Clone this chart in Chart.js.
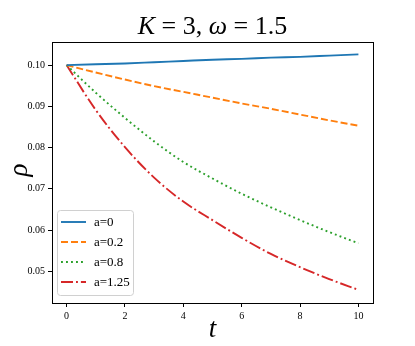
<!DOCTYPE html>
<html>
<head>
<meta charset="utf-8">
<script src="https://cdn.jsdelivr.net/npm/chart.js@4.4.0/dist/chart.umd.min.js"></script>
<style>
  html, body { margin: 0; padding: 0; background: #fff; }
  #wrap { width: 415px; height: 346px; }
</style>
</head>
<body>
<div id="wrap"><canvas id="chRho" width="415" height="346"></canvas></div>
<script>
var tVals = [0, 1, 2, 3, 4, 5, 6, 7, 8, 9, 10];
var rhoA0   = [0.1000, 0.1002, 0.1004, 0.1007, 0.1010, 0.1013, 0.1015, 0.1018, 0.1020, 0.1023, 0.1026];
var rhoA02  = [0.1000, 0.0982, 0.0965, 0.0949, 0.0935, 0.0921, 0.0907, 0.0894, 0.0880, 0.0866, 0.0853];
var rhoA08  = [0.1000, 0.0933, 0.0872, 0.0815, 0.0765, 0.0725, 0.0688, 0.0655, 0.0624, 0.0595, 0.0568];
var rhoA125 = [0.1000, 0.0891, 0.0801, 0.0727, 0.0669, 0.0624, 0.0581, 0.0542, 0.0510, 0.0481, 0.0455];
var seriesLabels = ['a=0', 'a=0.2', 'a=0.8', 'a=1.25'];
var xTicks = [0, 2, 4, 6, 8, 10];
var yTicks = [0.05, 0.06, 0.07, 0.08, 0.09, 0.10];

var colors = ['#1f77b4', '#ff7f0e', '#2ca02c', '#d62728'];
var dashes = [[], [7, 3], [1.9, 3.1], [12, 3, 1.9, 3]];
var serif = '"Liberation Serif", "DejaVu Serif", serif';

function pts(ys) {
  return tVals.map(function (t, i) { return {x: t, y: ys[i]}; });
}

var allSeries = [rhoA0, rhoA02, rhoA08, rhoA125];
var datasets = allSeries.map(function (ys, i) {
  return {
    label: seriesLabels[i],
    data: pts(ys),
    borderColor: colors[i],
    borderWidth: 1.9,
    borderDash: dashes[i],
    pointRadius: 0,
    fill: false,
    cubicInterpolationMode: 'monotone'
  };
});

// frame, title, axis labels and a matplotlib-like legend
var decor = {
  id: 'decor',
  afterDraw: function (chart) {
    var ctx = chart.ctx, a = chart.chartArea;
    ctx.save();
    ctx.strokeStyle = '#000';
    ctx.lineWidth = 1;
    ctx.strokeRect(a.left + 0.5, a.top + 0.5, a.right - a.left, a.bottom - a.top);

    // title with italic K and omega
    var parts = [['K', 'italic'], [' = 3, ', 'normal'], ['\u03c9', 'italic'], [' = 1.5', 'normal']];
    var size = 26, total = 0;
    parts.forEach(function (p) {
      ctx.font = p[1] + ' ' + size + 'px ' + serif;
      total += ctx.measureText(p[0]).width;
    });
    var x = (a.left + a.right) / 2 - total / 2;
    ctx.fillStyle = '#000';
    ctx.textBaseline = 'alphabetic';
    ctx.textAlign = 'left';
    parts.forEach(function (p) {
      ctx.font = p[1] + ' ' + size + 'px ' + serif;
      ctx.fillText(p[0], x, 34);
      x += ctx.measureText(p[0]).width;
    });

    // axis labels
    ctx.font = 'italic 27px ' + serif;
    ctx.textAlign = 'center';
    ctx.fillText('t', (a.left + a.right) / 2, 337);
    ctx.save();
    ctx.translate(20, 170);
    ctx.rotate(-Math.PI / 2);
    ctx.textBaseline = 'middle';
    ctx.fillText('\u03c1', 0, 0);
    ctx.restore();

    // legend
    var lx = 57.5, ly = 210.5, lw = 76, lh = 85, r = 3;
    ctx.beginPath();
    ctx.moveTo(lx + r, ly);
    ctx.arcTo(lx + lw, ly, lx + lw, ly + lh, r);
    ctx.arcTo(lx + lw, ly + lh, lx, ly + lh, r);
    ctx.arcTo(lx, ly + lh, lx, ly, r);
    ctx.arcTo(lx, ly, lx + lw, ly, r);
    ctx.closePath();
    ctx.fillStyle = 'rgba(255,255,255,0.8)';
    ctx.fill();
    ctx.strokeStyle = '#d0d0d0';
    ctx.lineWidth = 1;
    ctx.stroke();

    chart.data.datasets.forEach(function (ds, i) {
      var yy = 222 + i * 20;
      ctx.beginPath();
      ctx.setLineDash(ds.borderDash);
      ctx.strokeStyle = ds.borderColor;
      ctx.lineWidth = ds.borderWidth;
      ctx.moveTo(61, yy);
      ctx.lineTo(86, yy);
      ctx.stroke();
      ctx.setLineDash([]);
      ctx.fillStyle = '#000';
      ctx.font = '13px ' + serif;
      ctx.textAlign = 'left';
      ctx.textBaseline = 'middle';
      ctx.fillText(ds.label, 94, yy + 1);
    });
    ctx.restore();
  }
};

new Chart(document.getElementById('chRho'), {
  type: 'line',
  data: { datasets: datasets },
  options: {
    responsive: false,
    animation: false,
    layout: { padding: { left: 0, right: 42, top: 42, bottom: 0 } },
    plugins: { legend: { display: false }, title: { display: false }, tooltip: { enabled: false } },
    scales: {
      x: {
        type: 'linear',
        min: -0.5,
        max: 10.5,
        afterBuildTicks: function (s) { s.ticks = xTicks.map(function (v) { return {value: v}; }); },
        afterFit: function (s) { s.height = 43; },
        grid: { drawOnChartArea: false, tickLength: 4, tickColor: '#000', tickWidth: 1 },
        border: { display: false },
        ticks: { color: '#000', padding: 3, maxRotation: 0, font: { family: serif, size: 10 },
                 callback: function (v) { return String(v); } }
      },
      y: {
        type: 'linear',
        min: 0.0423,
        max: 0.1056,
        afterBuildTicks: function (s) { s.ticks = yTicks.map(function (v) { return {value: v}; }); },
        afterFit: function (s) { s.width = 52; },
        grid: { drawOnChartArea: false, tickLength: 4, tickColor: '#000', tickWidth: 1 },
        border: { display: false },
        ticks: { color: '#000', padding: 3, font: { family: serif, size: 10 },
                 callback: function (v) { return v.toFixed(2); } }
      }
    }
  },
  plugins: [decor]
});
</script>
</body>
</html>
